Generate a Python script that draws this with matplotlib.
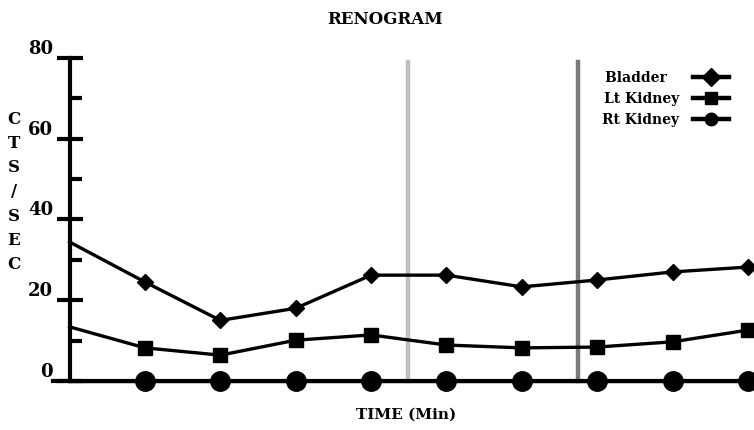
import matplotlib
matplotlib.use("Agg")
import matplotlib.pyplot as plt
from matplotlib.ticker import MultipleLocator

# Renogram counts
time_min = [0, 1, 2, 3, 4, 5, 6, 7, 8, 9]
bladder = [34.4, 24.5, 15.0, 18.0, 26.2, 26.2, 23.3, 25.0, 27.0, 28.2]
lt_kidney = [13.4, 8.2, 6.4, 10.1, 11.4, 8.9, 8.2, 8.4, 9.7, 12.6]
rt_kidney = [0, 0, 0, 0, 0, 0, 0, 0, 0, 0]
marker_lines = [4.49, 6.75]
marker_colors = ["#c0c0c0", "#7a7a7a"]
y_ticks = [0, 20, 40, 60, 80]

plt.rcParams["font.family"] = "DejaVu Serif"
plt.rcParams["font.weight"] = "bold"

fig = plt.figure(figsize=(7.54, 4.3), dpi=100)
# axes placed so data 0 sits at x=70px, y=381px
ax = fig.add_axes([53 / 754, 28.8 / 430, 701 / 754, 351.5 / 430])
ax.set_xlim(-0.22, 9.08)
ax.set_ylim(-5, 82)

for xv, c in zip(marker_lines, marker_colors):
    ax.plot([xv, xv], [0, 79], color=c, lw=3.2, zorder=1)

ax.plot(time_min, bladder, color="black", lw=2.4, marker="D", ms=8.5,
        markevery=range(1, 10), label="Bladder", clip_on=False, zorder=3)
ax.plot(time_min, lt_kidney, color="black", lw=2.4, marker="s", ms=10,
        markevery=range(1, 10), label="Lt Kidney", clip_on=False, zorder=3)
ax.plot(time_min, rt_kidney, color="black", lw=2.4, marker="o", ms=14,
        markevery=range(1, 10), label="Rt Kidney", clip_on=False, zorder=3)

for s in ["top", "right"]:
    ax.spines[s].set_visible(False)
ax.spines["left"].set_position(("data", 0))
ax.spines["bottom"].set_position(("data", 0))
ax.spines["left"].set_bounds(0, 80)
ax.spines["bottom"].set_bounds(-0.22, 9.08)
ax.spines["left"].set_linewidth(3)
ax.spines["bottom"].set_linewidth(3)

ax.set_xticks([])
ax.set_yticks(y_ticks)
ax.set_yticklabels([str(v) for v in y_ticks])
ax.yaxis.set_minor_locator(MultipleLocator(10))
ax.tick_params(axis="y", which="major", direction="inout", length=19, width=3,
               pad=2.5, labelsize=13)
ax.tick_params(axis="y", which="minor", direction="in", length=8.5, width=3)
for lbl in ax.get_yticklabels():
    lbl.set_va("bottom")

fig.text(385 / 754, 1 - 20 / 430, "RENOGRAM", ha="center", va="center",
         fontsize=12, fontweight="bold")
fig.text(406 / 754, 1 - 415 / 430, "TIME (Min)", ha="center", va="center",
         fontsize=11, fontweight="bold")
fig.text(14 / 754, 1 - 192 / 430, "C\nT\nS\n/\nS\nE\nC", ha="center",
         va="center", fontsize=12, fontweight="bold", linespacing=1.55)

handles, labels = ax.get_legend_handles_labels()
# pad the short label so all texts start at the same x
labels = ["Bladder\u2007\u2009", "Lt Kidney", "Rt Kidney"]
leg = ax.legend(handles, labels, loc="upper left",
                bbox_to_anchor=(602 / 754, 1 - 71 / 430),
                bbox_transform=fig.transFigure, frameon=False, markerfirst=False,
                fontsize=10, handlelength=2.6, handletextpad=1.0,
                labelspacing=0.5, borderpad=0, borderaxespad=0)
for h in leg.legend_handles:
    h.set_markersize(9)
    h.set_linewidth(3.2)

fig.savefig("out.png", dpi=100)
